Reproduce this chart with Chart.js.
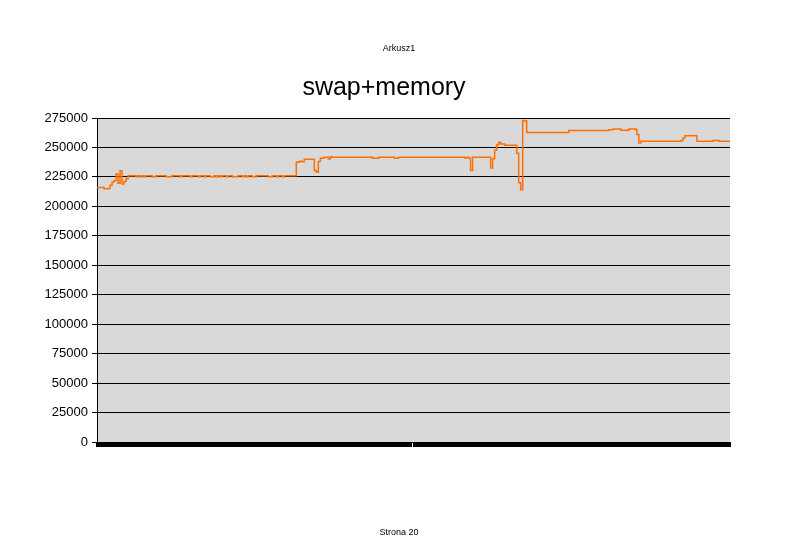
<!DOCTYPE html>
<html><head><meta charset="utf-8">
<script src="https://cdn.jsdelivr.net/npm/chart.js@4.4.1/dist/chart.umd.min.js"></script>
<style>
html,body{margin:0;padding:0;background:#fff;}
#wrap{position:relative;width:803px;height:556px;overflow:hidden;}
canvas{position:absolute;left:0;top:0;}
.pg{position:absolute;left:0;width:798px;text-align:center;font-family:"Liberation Sans",Arial,sans-serif;font-size:9px;line-height:12px;color:#000;}
</style></head><body>
<div id="wrap">
<canvas id="c" width="803" height="556"></canvas>
<div class="pg" style="top:42px">Arkusz1</div>
<div class="pg" style="top:526px">Strona 20</div>
</div>
<script>
const chartTitle = 'swap+memory';
const yTicks = [0, 25000, 50000, 75000, 100000, 125000, 150000, 175000, 200000, 225000, 250000, 275000];
const memory = [
  216000, 216000, 216000, 216000, 215000, 215000, 215200, 218000, 220700, 221800,
  227500, 219600, 230300, 219000, 221000, 223500, 226000, 226000, 226000, 226000,
  225200, 226000, 225200, 226000, 225200, 226000, 226000, 226000, 225200, 225200,
  226000, 226000, 226000, 226000, 226000, 225200, 225200, 225200, 226000, 226000,
  226000, 226000, 225200, 226000, 226000, 226000, 226000, 225200, 226000, 226000,
  226000, 225200, 226000, 226000, 225200, 226000, 226000, 225200, 225200, 226000,
  225200, 226000, 225200, 226000, 226000, 225200, 226000, 226000, 225200, 225200,
  225200, 226000, 226000, 225200, 226000, 225200, 226000, 226000, 225200, 225200,
  226000, 226000, 226000, 226000, 226000, 226000, 225200, 225200, 226000, 226000,
  225200, 226000, 226000, 225200, 226000, 226000, 226000, 226000, 226000, 226000,
  237400, 237800, 238300, 237800, 240000, 240000, 240000, 240000, 240000, 230500,
  229000, 238000, 240800, 241000, 241600, 241600, 240300, 242200, 241600, 241600,
  241600, 241600, 241600, 241600, 241600, 241600, 241600, 241600, 241600, 241600,
  241600, 241600, 241600, 241600, 241600, 241600, 241600, 241600, 240800, 240800,
  240800, 241600, 241600, 241600, 241600, 241600, 241600, 241600, 241600, 240800,
  240800, 241600, 241600, 241600, 241600, 241600, 241600, 241600, 241600, 241600,
  241600, 241600, 241600, 241600, 241600, 241600, 241600, 241600, 241600, 241600,
  241600, 241600, 241600, 241600, 241600, 241600, 241600, 241600, 241600, 241600,
  241600, 241600, 241600, 241600, 241000, 241600, 240800, 230500, 241600, 241600,
  241600, 241600, 241600, 241600, 241600, 241600, 241600, 232500, 240500, 247600,
  252400, 254400, 253000, 253000, 251800, 251800, 251800, 251800, 251800, 251800,
  245000, 220000, 214000, 272800, 272400, 262700, 262700, 262700, 262700, 262700,
  262700, 262700, 262700, 262700, 262700, 262700, 262700, 262700, 262700, 262700,
  262700, 262700, 262700, 262700, 262700, 262700, 264400, 264400, 264400, 264400,
  264400, 264400, 264400, 264400, 264400, 264400, 264400, 264400, 264400, 264400,
  264400, 264400, 264400, 264400, 264400, 264400, 265100, 265100, 265600, 265600,
  265600, 265600, 264600, 264600, 264600, 264600, 265600, 265600, 265600, 265400,
  261000, 253800, 255200, 255200, 255200, 255200, 255200, 255200, 255200, 255200,
  255200, 255200, 255200, 255200, 255200, 255200, 255200, 255200, 255200, 255200,
  255200, 255200, 256000, 258000, 260000, 260000, 260000, 260000, 260000, 260000,
  255200, 255200, 255200, 255200, 255200, 255200, 255200, 255200, 256000, 256000,
  256000, 255200, 255200, 255200, 255200, 255200, 255200
];
const samples = memory.map((_, i) => String(i + 1));

const FONT = '"Liberation Sans", Arial, Helvetica, sans-serif';

const plotBg = {
  id: 'plotBg',
  beforeDraw(chart) {
    const a = chart.chartArea, c = chart.ctx;
    c.save();
    c.fillStyle = '#d9d9d9';
    c.fillRect(a.left, a.top, a.right - a.left, a.bottom - a.top);
    c.restore();
  }
};

new Chart(document.getElementById('c'), {
  type: 'line',
  data: {
    labels: samples,
    datasets: [{
      label: chartTitle,
      data: memory,
      borderColor: '#ff7000',
      borderWidth: 1.5,
      pointRadius: 0,
      stepped: 'middle',
      fill: false
    }]
  },
  options: {
    responsive: false,
    animation: false,
    devicePixelRatio: 1,
    layout: { padding: { left: 38, right: 73, top: 0, bottom: 0 } },
    plugins: {
      legend: { display: false },
      tooltip: { enabled: false },
      title: {
        display: true,
        text: chartTitle,
        color: '#000',
        font: { family: FONT, size: 25, weight: 'normal', lineHeight: 1.2 },
        padding: { top: 73.6, bottom: 14.4 }
      }
    },
    scales: {
      x: {
        type: 'category',
        offset: false,
        grid: { display: true, drawOnChartArea: false, drawTicks: true, tickLength: 5, color: '#000', lineWidth: 2 },
        border: { display: true, color: '#000', width: 1 },
        ticks: { display: false },
        afterFit(s) { s.height = 114; }
      },
      y: {
        min: yTicks[0],
        max: yTicks[yTicks.length - 1],
        ticks: {
          stepSize: yTicks[1] - yTicks[0],
          color: '#000',
          font: { family: FONT, size: 13 },
          padding: 4,
          callback: v => String(v)
        },
        grid: { color: '#000', lineWidth: 1, tickLength: 5, drawTicks: true },
        border: { display: true, color: '#000', width: 1 },
        afterFit(s) { s.width = 59; }
      }
    }
  },
  plugins: [plotBg]
});
</script>
</body></html>
